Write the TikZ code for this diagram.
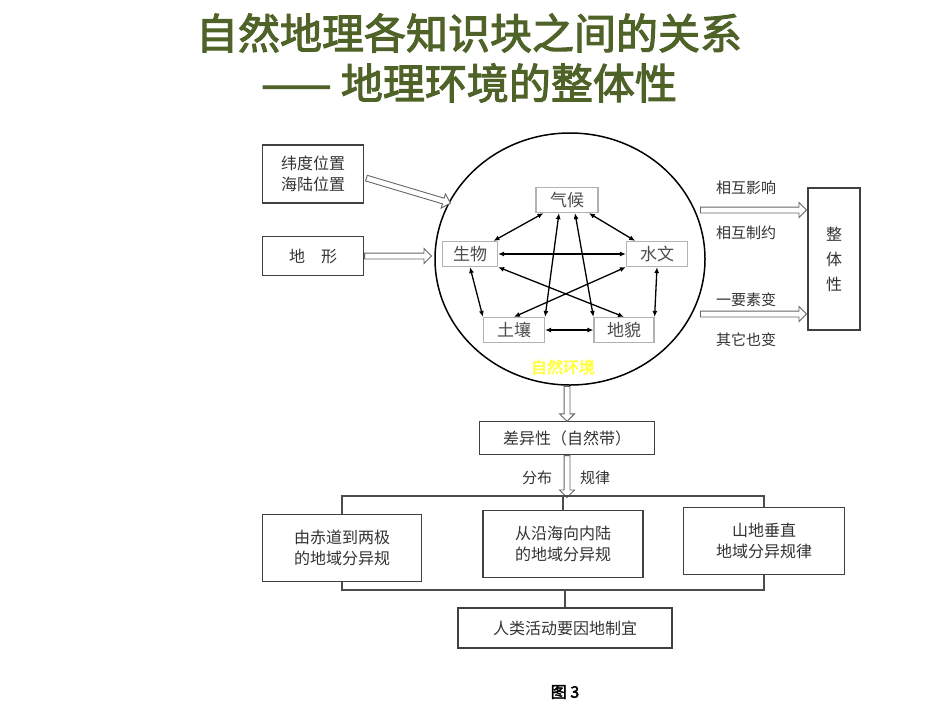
\documentclass[tikz,border=0pt]{standalone}
\usepackage{fontspec}
\usetikzlibrary{arrows.meta,shapes.arrows,calc}
\setmainfont{Noto Sans CJK SC}
\newfontfamily\cjkb[FakeBold=2.5]{Noto Sans CJK SC}
\newcommand{\harrow}[2]{\path let \p1=(#1), \p2=(#2), \n1={atan2(\y2-\y1,\x2-\x1)}, \n2={veclen(\x2-\x1,\y2-\y1)} in
  (#1) node[single arrow,draw=black!60,line width=0.9pt,fill=white,inner sep=2.5pt,single arrow head extend=4.5pt,minimum height=\n2,rotate=\n1,anchor=tail] {};}
\begin{document}
\begin{tikzpicture}[x=1pt,y=-1pt,
  box/.style={draw=black!75,line width=1.2pt,fill=white,font=\fontsize{16}{21}\selectfont,align=center,inner sep=0pt,text=black!80},
  elem/.style={draw=black!30,line width=1.2pt,fill=white,font=\fontsize{17}{19}\selectfont,inner sep=0pt,minimum height=25pt,text=black!70},
  star/.style={{Latex[length=6pt,width=5pt]}-{Latex[length=6pt,width=5pt]},line width=1.3pt},
  lbl/.style={font=\fontsize{15}{17}\selectfont,text=black!80},
  ln/.style={draw=black!70,line width=1.5pt}]
\useasboundingbox (0,0) rectangle (950,713);
\fill[white] (0,0) rectangle (950,713);
\node[font=\cjkb\fontsize{42}{46}\selectfont,text={rgb,255:red,79;green,98;blue,40}] (t1) at (469,33) {自然地理各知识块之间的关系};
\node[font=\cjkb\fontsize{42}{46}\selectfont,text={rgb,255:red,79;green,98;blue,40}] (t2) at (469,83) {—— 地理环境的整体性};
% left inputs
\node[box,minimum width=101pt,minimum height=58pt] (lat) at (313,174) {纬度位置\\海陆位置};
\node[box,minimum width=101pt,minimum height=39pt] (terr) at (313,256) {地\quad 形};
% circle
\draw[line width=1.5pt] (570,259) ellipse [x radius=135,y radius=126];
\coordinate (cin1) at (450,203);
\coordinate (cin2) at (431,256);
\coordinate (lat1) at (366,178);
\harrow{lat1}{cin1}
\harrow{terr.east}{cin2}
\node[elem,minimum width=62pt] (qh) at (567,200) {气候};
\node[elem,minimum width=55pt] (sw) at (470,254) {生物};
\node[elem,minimum width=61pt] (swn) at (657,254) {水文};
\node[elem,minimum width=61pt] (tr) at (514,330) {土壤};
\node[elem,minimum width=60pt] (dm) at (624,330) {地貌};
\draw[star] (qh) -- (sw);
\draw[star] (qh) -- (swn);
\draw[star] (qh.south) ++(-8,0) coordinate (q1) (q1) -- (tr.north east);
\draw[star] (qh.south) ++(8,0) coordinate (q2) (q2) -- (dm.north west);
\draw[star] (sw.east) -- (swn.west);
\draw[star] (sw.south) -- (tr.north west);
\draw[star] (sw.south east) -- (dm.north);
\draw[star] (swn.south west) -- (tr.north);
\draw[star] (swn.south) -- (dm.north east);
\draw[star] (tr.east) -- (dm.west);
\node[font=\cjkb\fontsize{16}{18}\selectfont,text={rgb,255:red,255;green,255;blue,60}] (zr) at (563,367) {自然环境};
% right
\node[box,minimum width=52pt,minimum height=142pt] (zt) at (834,259) {整\\[4pt]体\\[4pt]性};
\coordinate (r1a) at (700,210); \coordinate (r1b) at (806,210);
\coordinate (r2a) at (700,314); \coordinate (r2b) at (806,314);
\harrow{r1a}{r1b}
\harrow{r2a}{r2b}
\node[lbl] (l1) at (746,188) {相互影响};
\node[lbl] (l2) at (746,233) {相互制约};
\node[lbl] (l3) at (746,300) {一要素变};
\node[lbl] (l4) at (746,340) {其它也变};
% bottom
\node[box,minimum width=175pt,minimum height=33pt] (cy) at (567,438) {差异性（自然带）};
\coordinate (cb) at (567,386);
\harrow{cb}{cy.north}
\coordinate (br) at (567,497);
\harrow{cy.south}{br}
\node[lbl] (fb) at (537,478) {分布};
\node[lbl] (gl) at (595,478) {规律};
\node[box,minimum width=159pt,minimum height=67pt] (b1) at (342,548) {由赤道到两极\\的地域分异规};
\node[box,minimum width=160pt,minimum height=67pt] (b2) at (563,544) {从沿海向内陆\\的地域分异规};
\node[box,minimum width=161pt,minimum height=67pt] (b3) at (764,541) {山地垂直\\地域分异规律};
\draw[ln] (b1.north) -- ++(0,-18) -| (b3.north);
\draw[ln] (b2.north) -- (b2.north |- br);
\node[box,minimum width=214pt,minimum height=40pt] (rl) at (565,628) {人类活动要因地制宜};
\coordinate (bb) at (565,590);
\draw[ln] (b1.south) |- (bb) -| (b3.south);
\draw[ln] (bb) -- (rl.north);
\node[font=\cjkb\fontsize{16}{18}\selectfont] (fig) at (565,692) {图 3};
\end{tikzpicture}
\end{document}
